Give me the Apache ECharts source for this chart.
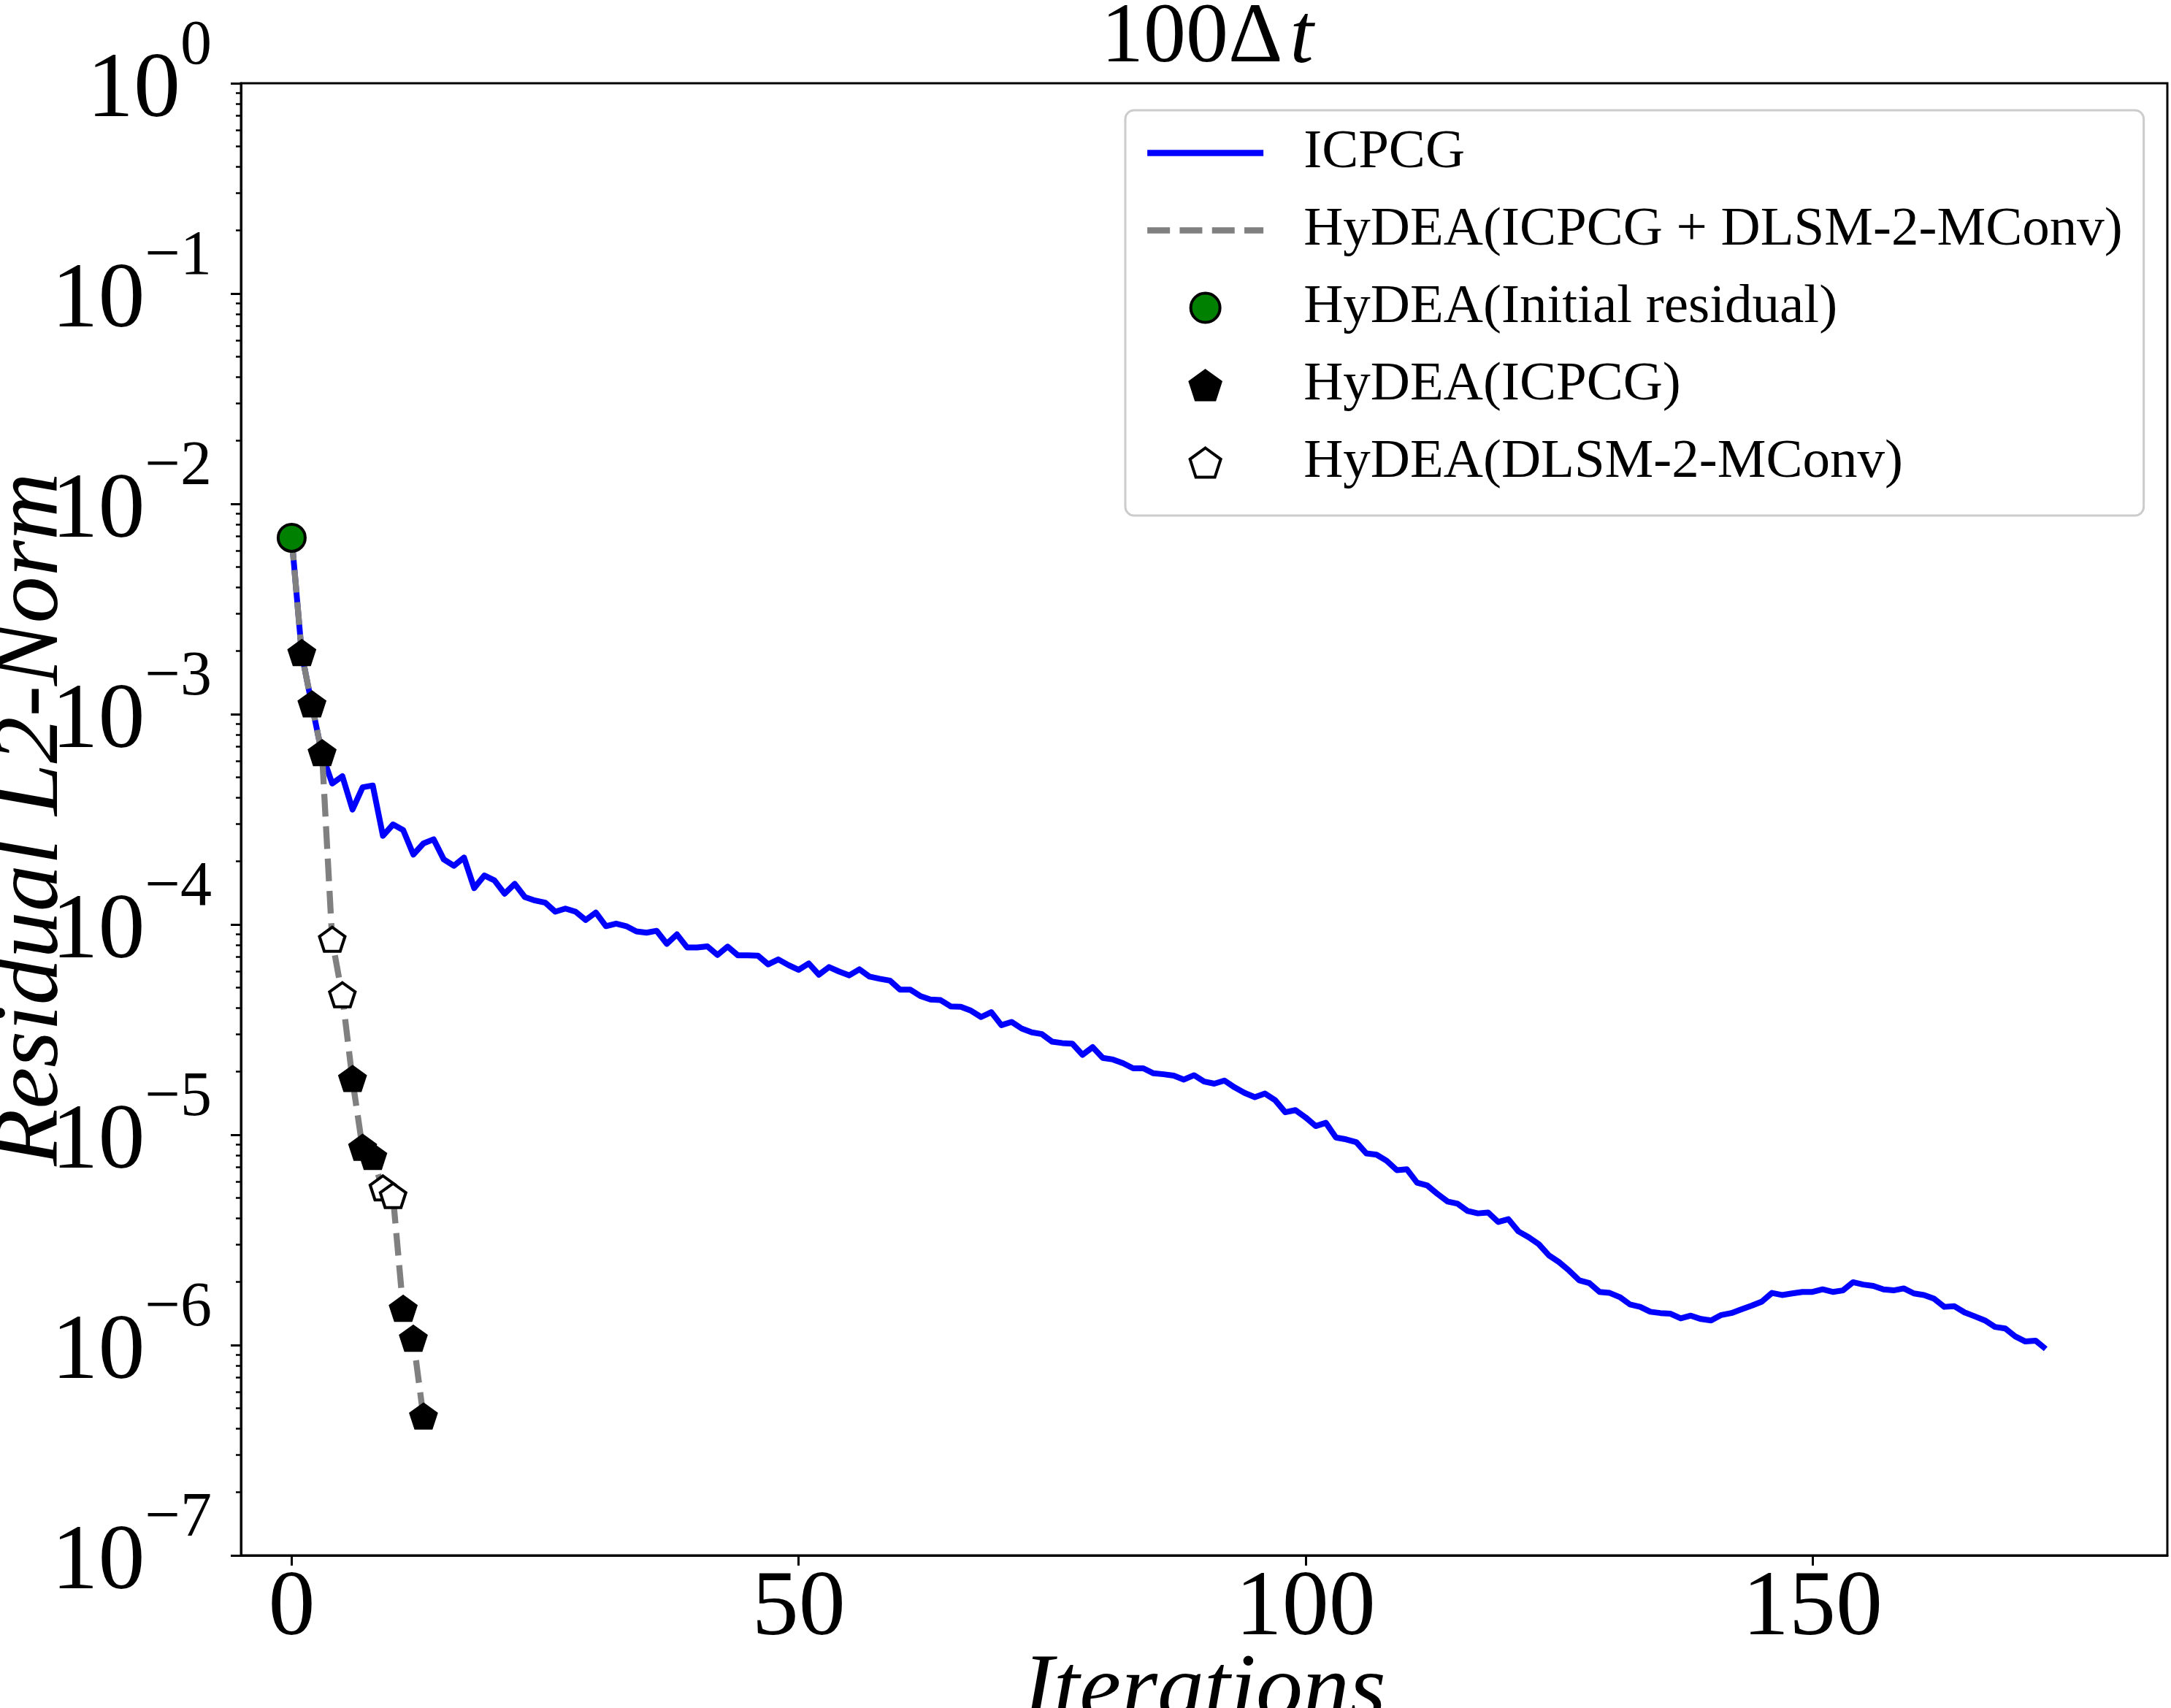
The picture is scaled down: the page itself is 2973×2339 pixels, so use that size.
<!DOCTYPE html>
<html>
<head>
<meta charset="utf-8">
<title>100Δt residual history</title>
<script src="https://cdn.jsdelivr.net/npm/echarts@6/dist/echarts.min.js"></script>
<style>
  html, body { margin: 0; padding: 0; background: #fff; }
  #main { width: 2973px; height: 2339px; }
</style>
</head>
<body>
<div id="main"></div>
<script>
// residual L2-norm of plain ICPCG, one value per iteration (0..173)
var icpcgResidual = [
  6.90e-3, 1.93e-3, 1.10e-3, 6.45e-4, 4.68e-4, 5.07e-4, 3.52e-4, 4.49e-4, 4.58e-4, 2.64e-4,
  2.99e-4, 2.81e-4, 2.15e-4, 2.43e-4, 2.54e-4, 2.04e-4, 1.90e-4, 2.08e-4, 1.49e-4, 1.71e-4,
  1.62e-4, 1.40e-4, 1.56e-4, 1.35e-4, 1.30e-4, 1.27e-4, 1.15e-4, 1.19e-4, 1.15e-4, 1.05e-4,
  1.14e-4, 9.82e-5, 1.01e-4, 9.82e-5, 9.27e-5, 9.14e-5, 9.33e-5, 8.09e-5, 8.97e-5, 7.78e-5,
  7.78e-5, 7.87e-5, 7.16e-5, 7.85e-5, 7.14e-5, 7.14e-5, 7.10e-5, 6.46e-5, 6.82e-5, 6.41e-5,
  6.08e-5, 6.53e-5, 5.77e-5, 6.27e-5, 5.97e-5, 5.73e-5, 6.12e-5, 5.65e-5, 5.52e-5, 5.41e-5,
  4.90e-5, 4.90e-5, 4.57e-5, 4.40e-5, 4.37e-5, 4.08e-5, 4.06e-5, 3.89e-5, 3.63e-5, 3.83e-5,
  3.32e-5, 3.44e-5, 3.20e-5, 3.07e-5, 3.01e-5, 2.77e-5, 2.73e-5, 2.71e-5, 2.40e-5, 2.61e-5,
  2.32e-5, 2.28e-5, 2.19e-5, 2.07e-5, 2.07e-5, 1.96e-5, 1.94e-5, 1.91e-5, 1.83e-5, 1.92e-5,
  1.79e-5, 1.75e-5, 1.81e-5, 1.68e-5, 1.58e-5, 1.51e-5, 1.57e-5, 1.46e-5, 1.28e-5, 1.31e-5,
  1.21e-5, 1.10e-5, 1.14e-5, 9.70e-6, 9.51e-6, 9.23e-6, 8.15e-6, 8.04e-6, 7.52e-6, 6.79e-6,
  6.85e-6, 5.92e-6, 5.74e-6, 5.24e-6, 4.82e-6, 4.70e-6, 4.34e-6, 4.23e-6, 4.27e-6, 3.85e-6,
  3.97e-6, 3.47e-6, 3.26e-6, 3.02e-6, 2.67e-6, 2.48e-6, 2.26e-6, 2.03e-6, 1.97e-6, 1.79e-6,
  1.77e-6, 1.69e-6, 1.56e-6, 1.52e-6, 1.44e-6, 1.42e-6, 1.41e-6, 1.34e-6, 1.38e-6, 1.33e-6,
  1.31e-6, 1.39e-6, 1.42e-6, 1.48e-6, 1.54e-6, 1.61e-6, 1.77e-6, 1.73e-6, 1.76e-6, 1.79e-6,
  1.79e-6, 1.84e-6, 1.79e-6, 1.82e-6, 1.99e-6, 1.94e-6, 1.91e-6, 1.84e-6, 1.82e-6, 1.86e-6,
  1.76e-6, 1.73e-6, 1.66e-6, 1.52e-6, 1.53e-6, 1.43e-6, 1.37e-6, 1.31e-6, 1.22e-6, 1.20e-6,
  1.10e-6, 1.04e-6, 1.05e-6, 9.59e-7
];

// HyDEA residual per iteration (0..13) and which solver produced each step
var hydeaResidual = [6.90e-3, 1.93e-3, 1.10e-3, 6.45e-4, 8.37e-5, 4.56e-5, 1.82e-5,
  8.57e-6, 7.76e-6, 5.50e-6, 5.06e-6, 1.47e-6, 1.06e-6, 4.52e-7];
var hydeaSolver = ['init', 'icpcg', 'icpcg', 'icpcg', 'dlsm', 'dlsm', 'icpcg',
  'icpcg', 'icpcg', 'dlsm', 'dlsm', 'icpcg', 'icpcg', 'icpcg'];

var xTicks = [0, 50, 100, 150];
var yDecades = [-7, -6, -5, -4, -3, -2, -1];
var yMantissas = [2, 3, 4, 5, 6, 7, 8, 9];

var seriesNames = ['ICPCG', 'HyDEA(ICPCG + DLSM-2-MConv)', 'HyDEA(Initial residual)',
  'HyDEA(ICPCG)', 'HyDEA(DLSM-2-MConv)'];

var SERIF = '"Liberation Serif", "Times New Roman", serif';
var PENTAGON = 'path://M0,-100L95.1,-30.9L58.8,80.9L-58.8,80.9L-95.1,-30.9Z';
var BLUE = '#0000ff', GREY = '#808080', GREEN = '#008000';
var DASH = [31, 13.3];

// log minor tick positions 2..9 x 10^k
var yMinorTicks = [];
yDecades.forEach(function (d) {
  yMantissas.forEach(function (m) {
    yMinorTicks.push(m * Math.pow(10, d));
  });
});

function hydeaPoints(kind) {
  var pts = [];
  for (var i = 0; i < hydeaResidual.length; i++) {
    if (hydeaSolver[i] == kind) pts.push([i, hydeaResidual[i]]);
  }
  return pts;
}

var myChart = echarts.init(document.getElementById('main'), null, { renderer: 'canvas' });

var option = {
  animation: false,
  backgroundColor: '#ffffff',
  title: {
    text: '{a|100Δ}{i|t}',
    left: 1508,
    top: 14,
    padding: 0,
    textStyle: {
      fontWeight: 'normal',
      rich: {
        a: { fontSize: 116, lineHeight: 80, fontFamily: SERIF, fontWeight: 'normal', color: '#000' },
        i: { fontSize: 116, lineHeight: 80, fontFamily: SERIF, fontWeight: 'normal',
             fontStyle: 'italic', color: '#000', padding: [0, 0, 0, 10] }
      }
    }
  },
  legend: {
    orient: 'vertical',
    left: 1541,
    top: 151,
    padding: [21, 29, 35, 26],
    itemWidth: 159,
    itemHeight: 40,
    itemGap: 31,
    backgroundColor: 'rgba(255,255,255,0.8)',
    borderColor: '#cccccc',
    borderWidth: 3,
    borderRadius: 12,
    itemStyle: { borderWidth: 'inherit' },
    textStyle: {
      fontSize: 75,
      lineHeight: 75,
      fontFamily: SERIF,
      color: '#000',
      padding: [0, 0, 0, 50]
    },
    data: [
      { name: seriesNames[0], itemStyle: { color: 'rgba(0,0,0,0)', borderWidth: 0 },
        lineStyle: { color: BLUE, width: 8.3, type: 'solid' } },
      { name: seriesNames[1], itemStyle: { color: 'rgba(0,0,0,0)', borderWidth: 0 },
        lineStyle: { color: GREY, width: 8.3, type: DASH } },
      { name: seriesNames[2] },
      { name: seriesNames[3] },
      { name: seriesNames[4] }
    ]
  },
  grid: {
    left: 330,
    right: 5,
    top: 114,
    bottom: 209,
    show: true,
    borderColor: '#000',
    borderWidth: 3,
    backgroundColor: 'transparent',
    outerBoundsMode: 'none'
  },
  xAxis: {
    type: 'value',
    min: -5,
    max: 185,
    name: 'Iterations',
    nameLocation: 'middle',
    nameGap: 124,
    nameMoveOverlap: false,
    nameTextStyle: {
      fontSize: 128, lineHeight: 128, fontFamily: SERIF, fontStyle: 'italic', color: '#000'
    },
    axisLine: { show: true, onZero: false, lineStyle: { color: '#000', width: 3 } },
    axisTick: { show: true, customValues: xTicks, length: 14, lineStyle: { color: '#000', width: 3 } },
    axisLabel: {
      customValues: xTicks,
      margin: 10,
      fontSize: 128,
      lineHeight: 128,
      fontFamily: SERIF,
      color: '#000'
    },
    splitLine: { show: false }
  },
  yAxis: [
    {
      type: 'log',
      logBase: 10,
      min: 1e-7,
      max: 1,
      splitNumber: 7,
      name: 'Residual L2-Norm',
      nameLocation: 'middle',
      nameGap: 222,
      nameMoveOverlap: false,
      nameTextStyle: {
        fontSize: 128, lineHeight: 128, fontFamily: SERIF, fontStyle: 'italic', color: '#000'
      },
      axisLine: { show: true, onZero: false, lineStyle: { color: '#000', width: 3 } },
      axisTick: { show: true, length: 14, lineStyle: { color: '#000', width: 3 } },
      axisLabel: {
        margin: 40,
        formatter: function (value) {
          var e = Math.round(Math.log10(value));
          var sup = e === 0 ? '0' : '\u2212' + Math.abs(e);
          return '{b|10}{s|' + sup + '}';
        },
        rich: {
          b: { fontSize: 128, lineHeight: 128, fontFamily: SERIF, color: '#000',
               padding: [23, 0, 0, 0], verticalAlign: 'middle' },
          s: { fontSize: 86, lineHeight: 86, fontFamily: SERIF, color: '#000',
               padding: [0, 0, 99, 0], verticalAlign: 'middle' }
        }
      },
      splitLine: { show: false }
    },
    {
      // minor ticks only
      type: 'log',
      logBase: 10,
      min: 1e-7,
      max: 1,
      position: 'left',
      axisLine: { show: false, onZero: false },
      axisLabel: { show: false },
      axisTick: { show: true, customValues: yMinorTicks, length: 7, lineStyle: { color: '#000', width: 2.5 } },
      splitLine: { show: false }
    }
  ],
  series: [
    {
      name: seriesNames[0],
      type: 'line',
      data: icpcgResidual.map(function (v, i) { return [i, v]; }),
      symbol: 'none',
      showSymbol: false,
      lineStyle: { color: BLUE, width: 8, join: 'round' },
      itemStyle: { color: BLUE },
      z: 2
    },
    {
      name: seriesNames[1],
      type: 'line',
      data: hydeaResidual.map(function (v, i) { return [i, v]; }),
      symbol: 'none',
      showSymbol: false,
      lineStyle: { color: GREY, width: 8.3, type: DASH },
      itemStyle: { color: GREY },
      z: 3
    },
    {
      name: seriesNames[2],
      type: 'scatter',
      data: hydeaPoints('init'),
      symbol: 'circle',
      symbolSize: 37,
      itemStyle: { color: GREEN, borderColor: '#000', borderWidth: 4, opacity: 1 },
      z: 4
    },
    {
      name: seriesNames[3],
      type: 'scatter',
      data: hydeaPoints('icpcg'),
      symbol: PENTAGON,
      symbolSize: [35, 33],
      symbolOffset: [0, -2],
      itemStyle: { color: '#000', borderColor: '#000', borderWidth: 4, opacity: 1 },
      z: 5
    },
    {
      name: seriesNames[4],
      type: 'scatter',
      data: hydeaPoints('dlsm'),
      symbol: PENTAGON,
      symbolSize: [35, 33],
      symbolOffset: [0, -2],
      itemStyle: { color: '#ffffff', borderColor: '#000', borderWidth: 4, opacity: 1 },
      z: 6
    }
  ]
};

option && myChart.setOption(option);
</script>
</body>
</html>
